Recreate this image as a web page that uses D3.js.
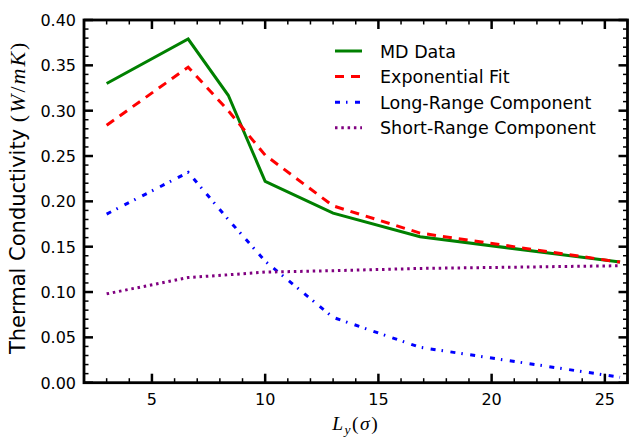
<!DOCTYPE html>
<html>
<head>
<meta charset="utf-8">
<script src="https://cdn.jsdelivr.net/npm/d3@7"></script>
<style>
  body { margin: 0; background: #fff; }
  text { font-family: "DejaVu Sans", sans-serif; fill: #000; }
  .math { font-family: "Liberation Serif", "DejaVu Serif", serif; }
</style>
</head>
<body>
<div id="chart"></div>
<script>
// Box sizes L_y (sigma)
const lengths = [3.0, 6.6, 8.37, 10.0, 13.0, 16.84, 25.67];
// Thermal conductivity values
const mdData = [0.330, 0.379, 0.317, 0.222, 0.187, 0.161, 0.133];
const expFit = [0.284, 0.348, 0.300, 0.251, 0.195, 0.165, 0.133];
const longRange = [0.186, 0.232, 0.180, 0.134, 0.072, 0.039, 0.006];
const shortRange = [0.098, 0.116, 0.119, 0.122, 0.1235, 0.126, 0.129];

const xMajor = [5, 10, 15, 20, 25];
const yMajor = [0.00, 0.05, 0.10, 0.15, 0.20, 0.25, 0.30, 0.35, 0.40];

const series = [
  { name: "MD Data", values: mdData, color: "#008000", dash: null },
  { name: "Exponential Fit", values: expFit, color: "#ff0000", dash: "9,7" },
  { name: "Long-Range Component", values: longRange, color: "#0000ff", dash: "5,6,1.5,7.5" },
  { name: "Short-Range Component", values: shortRange, color: "#800080", dash: "2.5,3.8" }
];

const W = 629, H = 438;
const margins = { top: 20, right: 1.5, bottom: 55.3, left: 84 };
const cw = W - margins.left - margins.right;
const ch = H - margins.top - margins.bottom;

let svg = d3.select("#chart").append("svg")
  .attr("width", W)
  .attr("height", H);

let x = d3.scaleLinear().domain([2, 26]).range([margins.left, margins.left + cw]);
let y = d3.scaleLinear().domain([0, 0.4]).range([margins.top + ch, margins.top]);

// Lines
let line = d3.line()
  .x((d, i) => x(lengths[i]))
  .y(d => y(d));

let plot = svg.append("g").attr("id", "lines");
series.forEach(s => {
  plot.append("path")
    .attr("d", line(s.values))
    .attr("fill", "none")
    .attr("stroke", s.color)
    .attr("stroke-width", 3)
    .attr("stroke-dasharray", s.dash)
    .attr("stroke-linejoin", "miter");
});

// Ticks (inward, all four sides)
let ticks = svg.append("g").attr("id", "ticks").attr("stroke", "#000");
const xMinor = d3.range(2, 27, 1).filter(v => !xMajor.includes(v));
const yMinor = d3.range(0, 41, 1).map(v => v / 100).filter(v => Math.round(v * 100) % 5 !== 0);
const pTop = margins.top, pBottom = margins.top + ch;
const pLeft = margins.left, pRight = margins.left + cw;

xMajor.forEach(v => {
  ticks.append("line").attr("x1", x(v)).attr("x2", x(v)).attr("y1", pBottom).attr("y2", pBottom - 9).attr("stroke-width", 2.5);
  ticks.append("line").attr("x1", x(v)).attr("x2", x(v)).attr("y1", pTop).attr("y2", pTop + 9).attr("stroke-width", 2.5);
});
xMinor.forEach(v => {
  ticks.append("line").attr("x1", x(v)).attr("x2", x(v)).attr("y1", pBottom).attr("y2", pBottom - 4.5).attr("stroke-width", 1.5);
  ticks.append("line").attr("x1", x(v)).attr("x2", x(v)).attr("y1", pTop).attr("y2", pTop + 4.5).attr("stroke-width", 1.5);
});
yMajor.forEach(v => {
  ticks.append("line").attr("x1", pLeft).attr("x2", pLeft + 9).attr("y1", y(v)).attr("y2", y(v)).attr("stroke-width", 2.5);
  ticks.append("line").attr("x1", pRight).attr("x2", pRight - 9).attr("y1", y(v)).attr("y2", y(v)).attr("stroke-width", 2.5);
});
yMinor.forEach(v => {
  ticks.append("line").attr("x1", pLeft).attr("x2", pLeft + 4.5).attr("y1", y(v)).attr("y2", y(v)).attr("stroke-width", 1.5);
  ticks.append("line").attr("x1", pRight).attr("x2", pRight - 4.5).attr("y1", y(v)).attr("y2", y(v)).attr("stroke-width", 1.5);
});

// Frame
svg.append("rect")
  .attr("x", pLeft).attr("y", pTop)
  .attr("width", cw).attr("height", ch)
  .attr("fill", "none")
  .attr("stroke", "#000")
  .attr("stroke-width", 2.8);

// Tick labels
svg.append("g").selectAll("text").data(xMajor).join("text")
  .attr("x", d => x(d))
  .attr("y", pBottom + 22)
  .attr("text-anchor", "middle")
  .attr("font-size", 16)
  .text(d => d);
svg.append("g").selectAll("text").data(yMajor).join("text")
  .attr("x", pLeft - 8)
  .attr("y", d => y(d) + 6)
  .attr("text-anchor", "end")
  .attr("font-size", 16)
  .text(d => d3.format(".2f")(d));

// Axis labels
let yl = svg.append("text")
  .attr("transform", "translate(25," + (pTop + ch / 2 - 4) + ") rotate(-90)")
  .attr("text-anchor", "middle")
  .attr("font-size", 21);
yl.append("tspan").text("Thermal Conductivity ");
let ym = yl.append("tspan").attr("class", "math").attr("font-size", 22).attr("letter-spacing", 2);
ym.append("tspan").text("(");
ym.append("tspan").attr("font-style", "italic").text("W");
ym.append("tspan").text("/");
ym.append("tspan").attr("font-style", "italic").text("mK");
ym.append("tspan").text(")");

let xl = svg.append("text")
  .attr("class", "math")
  .attr("x", (pLeft + pRight) / 2)
  .attr("y", 430)
  .attr("text-anchor", "middle")
  .attr("letter-spacing", 1.5)
  .attr("font-size", 19.5);
xl.append("tspan").attr("font-style", "italic").text("L");
xl.append("tspan").attr("font-style", "italic").attr("font-size", 13.5).attr("dy", 3.5).text("y");
xl.append("tspan").attr("dy", -3.5).text("(");
xl.append("tspan").attr("font-style", "italic").text("σ");
xl.append("tspan").text(")");

// Legend
let legend = svg.append("g").attr("id", "legend");
series.forEach((s, i) => {
  let ly = 51 + i * 25.6;
  legend.append("line")
    .attr("x1", 335).attr("x2", 362)
    .attr("y1", ly).attr("y2", ly)
    .attr("stroke", s.color)
    .attr("stroke-width", 3)
    .attr("stroke-dasharray", s.dash);
  legend.append("text")
    .attr("x", 380)
    .attr("y", ly + 6.5)
    .attr("font-size", 17.5)
    .text(s.name);
});
</script>
</body>
</html>
